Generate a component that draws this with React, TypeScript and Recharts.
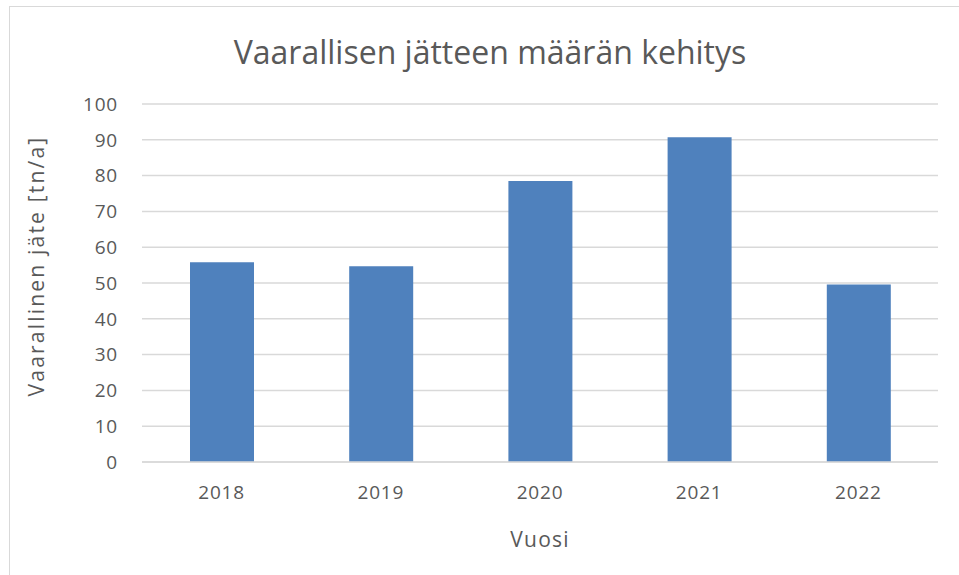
import { BarChart, Bar, XAxis, YAxis, CartesianGrid } from "recharts";

const years = ["2018", "2019", "2020", "2021", "2022"];
const waste = [55.8, 54.7, 78.5, 90.7, 49.6];
const yTicks = [0, 10, 20, 30, 40, 50, 60, 70, 80, 90, 100];

const data = years.map((year, i) => ({ year, waste: waste[i] }));

const FONT = "'Open Sans', sans-serif";
const TEXT = "#595959";
const GRID = "#d9d9d9";

export default function App() {
  return (
    <div style={{ position: "relative", width: 959, height: 575, overflow: "hidden", fontFamily: FONT }}>
      <style>{`body{margin:0;overflow:hidden}`}</style>
      {/* chart frame, right and bottom edges fall outside the picture */}
      <div
        style={{
          position: "absolute",
          left: 9,
          top: 6,
          width: 980,
          height: 600,
          border: `1px solid ${GRID}`,
          boxSizing: "border-box",
        }}
      />
      <div
        style={{
          position: "absolute",
          left: 490,
          top: 31,
          transform: "translateX(-50%)",
          whiteSpace: "nowrap",
          fontSize: 32,
          lineHeight: "42px",
          color: TEXT,
        }}
      >
        Vaarallisen jätteen määrän kehitys
      </div>
      {/* y axis title sits a bit above the plot middle, as in the original */}
      <div
        style={{
          position: "absolute",
          left: 36,
          top: 266,
          transform: "translate(-50%, -50%) rotate(-90deg)",
          whiteSpace: "nowrap",
          fontSize: 21,
          lineHeight: "28px",
          letterSpacing: 2.2,
          color: TEXT,
        }}
      >
        Vaarallinen jäte [tn/a]
      </div>
      <div style={{ position: "absolute", left: 0, top: 0 }}>
        <BarChart
          width={959}
          height={575}
          data={data}
          margin={{ top: 104, right: 21, bottom: 0, left: 0 }}
        >
          <CartesianGrid vertical={false} stroke={GRID} strokeWidth={1.5} />
          <XAxis
            dataKey="year"
            height={113}
            axisLine={{ stroke: GRID, strokeWidth: 1.5 }}
            tickLine={false}
            tickSize={0}
            tickMargin={24}
            tick={{ fontSize: 19, fill: TEXT, fontFamily: FONT, letterSpacing: 0.8 }}
            label={{
              value: "Vuosi",
              position: "insideBottom",
              offset: 28,
              style: { fontSize: 21, fill: TEXT, fontFamily: FONT, letterSpacing: 1.2 },
            }}
          />
          <YAxis
            width={142}
            domain={[0, 100]}
            ticks={yTicks}
            axisLine={false}
            tickLine={false}
            tickSize={0}
            tickMargin={24}
            tick={{ fontSize: 19, fill: TEXT, fontFamily: FONT, letterSpacing: 0.8 }}
          />
          <Bar dataKey="waste" fill="#4f81bd" barSize={64} isAnimationActive={false} />
        </BarChart>
      </div>
    </div>
  );
}
